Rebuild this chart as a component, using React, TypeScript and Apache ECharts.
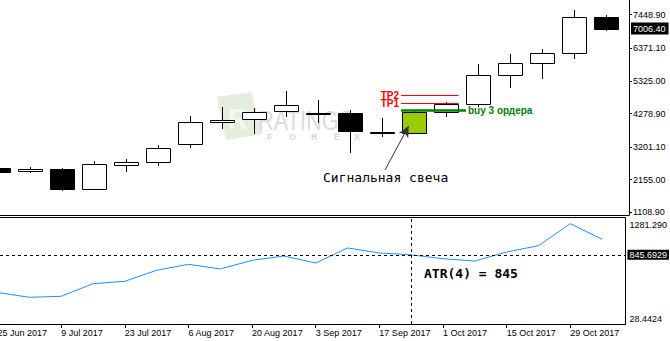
import React, { useEffect, useRef } from 'react';
import * as echarts from 'echarts';

// ---- Data ----
const weeks = [
  '25 Jun 2017', '2 Jul 2017', '9 Jul 2017', '16 Jul 2017', '23 Jul 2017',
  '30 Jul 2017', '6 Aug 2017', '13 Aug 2017', '20 Aug 2017', '27 Aug 2017',
  '3 Sep 2017', '10 Sep 2017', '17 Sep 2017', '24 Sep 2017', '1 Oct 2017',
  '8 Oct 2017', '15 Oct 2017', '22 Oct 2017', '29 Oct 2017', '5 Nov 2017',
];
const openPrices = [2521, 2425, 2489, 1866, 2636, 2713, 3291, 3997, 4093, 4350, 4280, 4305, 3690, 3660, 4318, 4575, 5505, 5890, 6211, 7366];
const closePrices = [2412, 2498, 1866, 2649, 2713, 3163, 3997, 4080, 4337, 4562, 4290, 3708, 3700, 4340, 4575, 5505, 5890, 6211, 7366, 7006.4];
const lowPrices = [2395, 2380, 1802, 1824, 2412, 2604, 3182, 3794, 3612, 4177, 3984, 3002, 3516, 3650, 4158, 4498, 5107, 5376, 6038, 6936];
const highPrices = [2535, 2563, 2531, 2755, 2810, 3259, 4190, 4478, 4446, 5001, 4713, 4392, 4125, 4390, 4649, 5868, 6189, 6349, 7601, 7440];
const atrValues = [401, 344, 356, 505, 533, 663, 734, 679, 781, 832, 749, 927, 868, 845.7, 800, 773, 879, 954, 1214, 1030];

const priceTicks = [7448.9, 6371.1, 5325.0, 4278.9, 3201.1, 2155.0, 1108.9];
const atrTicks = [1281.29, 28.4424];
const atrTickLabels = ['1281.290', '28.4424'];
const dateTickIndices = [0, 2, 4, 6, 8, 10, 12, 14, 16, 18];

const signalDate = '24 Sep 2017';
const lastPrice = 7006.4;
const lastPriceLabel = '7006.40';
const atrLevel = 845.6929;
const atrLevelLabel = '845.6929';
const buyLevel = 4391;
const tp1Level = 4594;
const tp2Level = 4851;

// ---- Scales ----
const priceMin = 1022.3;
const priceMax = 7921.6;
const xMin = 0.078;
const xMax = 19.734;

// annotation anchors (index, price)
const tpStart = 12.61;
const tpEnd = 14.41;
const buyEnd = 14.64;
const arrowTail = [12.11, 2466];
const arrowHead = [12.85, 3881];

const FONT = '"Liberation Sans", Arial, sans-serif';
const MONO = '"DejaVu Sans Mono", monospace';

export default function App() {
  const ref = useRef<HTMLDivElement>(null);

  useEffect(() => {
    if (!ref.current) return;
    const chart = echarts.init(ref.current, null, { renderer: 'svg' });
    const signalIndex = weeks.indexOf(signalDate);

    const candleData = weeks.map((_, i) => [i, openPrices[i], closePrices[i], lowPrices[i], highPrices[i]]);

    const renderCandle = (params: any, api: any) => {
      const i = api.value(0);
      const o = api.value(1);
      const c = api.value(2);
      const l = api.value(3);
      const h = api.value(4);
      const pO = api.coord([i, o]);
      const pC = api.coord([i, c]);
      const pL = api.coord([i, l]);
      const pH = api.coord([i, h]);
      const band = api.size([1, 0])[0];
      const half = band * 0.375;
      const cx = Math.round(pO[0]) + 0.5;
      const top = Math.round(Math.min(pO[1], pC[1]));
      const bot = Math.round(Math.max(pO[1], pC[1]));
      const bull = c >= o;
      const fill = params.dataIndex === signalIndex ? '#99cc00' : bull ? '#ffffff' : '#000000';
      const left = Math.round(pO[0] - half) + 0.5;
      return {
        type: 'group',
        children: [
          { type: 'line', shape: { x1: cx, y1: Math.round(pH[1]), x2: cx, y2: top }, style: { stroke: '#000', lineWidth: 1 } },
          { type: 'line', shape: { x1: cx, y1: bot, x2: cx, y2: Math.round(pL[1]) }, style: { stroke: '#000', lineWidth: 1 } },
          {
            type: 'rect',
            shape: { x: left, y: top + 0.5, width: Math.round(half * 2), height: Math.max(bot - top, 1) },
            style: { fill, stroke: '#000', lineWidth: 1 },
          },
        ],
      };
    };

    const foreLetters = ['F', 'O', 'R', 'E', 'X'];
    const foreX = [267, 289, 311, 334, 354];

    const option: any = {
      animation: false,
      backgroundColor: '#ffffff',
      grid: [
        { left: 0, top: 0, width: 629, height: 215 },
        { left: 0, top: 218, width: 629, height: 106 },
      ],
      xAxis: [
        {
          type: 'value', gridIndex: 0, min: xMin, max: xMax,
          axisLine: { show: true, onZero: false, lineStyle: { color: '#000', width: 1 } },
          axisTick: { show: false }, axisLabel: { show: false }, splitLine: { show: false },
        },
        {
          type: 'value', gridIndex: 1, min: xMin, max: xMax,
          axisLine: { show: true, onZero: false, lineStyle: { color: '#000', width: 1 } },
          axisTick: { show: true, customValues: dateTickIndices, length: 4, lineStyle: { color: '#000' } },
          axisLabel: {
            show: true, customValues: dateTickIndices, align: 'left', margin: 4,
            fontSize: 9, fontFamily: FONT, color: '#000',
            formatter: (v: number) => weeks[Math.round(v)] || '',
          },
          splitLine: { show: false },
        },
        {
          type: 'value', gridIndex: 1, min: xMin, max: xMax, position: 'top', offset: 1,
          axisLine: { show: true, onZero: false, lineStyle: { color: '#000', width: 1 } },
          axisTick: { show: false }, axisLabel: { show: false }, splitLine: { show: false },
        },
      ],
      yAxis: [
        {
          type: 'value', gridIndex: 0, position: 'right', min: priceMin, max: priceMax,
          axisLine: { show: true, lineStyle: { color: '#000', width: 1 } },
          axisTick: { show: true, customValues: priceTicks, length: 3, lineStyle: { color: '#000' } },
          axisLabel: {
            show: true, customValues: priceTicks, margin: 4, fontSize: 9, fontFamily: FONT, color: '#000',
            formatter: (v: number) => v.toFixed(2),
          },
          splitLine: { show: false },
        },
        {
          type: 'value', gridIndex: 1, position: 'right', min: atrTicks[1], max: atrTicks[0],
          axisLine: { show: true, lineStyle: { color: '#000', width: 1 } },
          axisTick: { show: false },
          axisLabel: {
            show: true, customValues: [atrTicks[0]], verticalAlign: 'top', padding: [2, 0, 0, 0],
            margin: 4, fontSize: 9, fontFamily: FONT, color: '#000',
            formatter: () => atrTickLabels[0],
          },
          splitLine: { show: false },
        },
        {
          type: 'value', gridIndex: 1, position: 'right', min: atrTicks[1], max: atrTicks[0],
          axisLine: { show: false }, axisTick: { show: false },
          axisLabel: {
            show: true, customValues: [atrTicks[1]], verticalAlign: 'bottom', padding: [0, 0, 1, 0],
            margin: 4, fontSize: 9, fontFamily: FONT, color: '#000',
            formatter: () => atrTickLabels[1],
          },
          splitLine: { show: false },
        },
      ],
      graphic: [
        {
          id: 'logoPage', type: 'polygon', z: 0, silent: true,
          shape: { points: [[217, 97], [251, 92], [263, 134], [226, 140]] },
          style: { fill: '#e4eedc' },
        },
        {
          id: 'logoR', type: 'text', z: 0, silent: true, x: 228, y: 103, scaleX: 0.9,
          style: { text: 'R', font: 'bold 30px ' + FONT, fill: '#f4f8f0', verticalAlign: 'top' },
        },
        {
          id: 'logoText', type: 'text', z: 0, silent: true, x: 258, y: 120, scaleX: 0.78,
          style: { text: 'RATINGS', font: '28px ' + FONT, fill: '#dcdcdc', verticalAlign: 'middle' },
        },
        ...foreLetters.map((ch, k) => ({
          id: 'fx' + k, type: 'text', z: 0, silent: true, x: foreX[k], y: 137,
          style: { text: ch, font: 'bold 9px ' + FONT, fill: '#d6d6d6', verticalAlign: 'middle' },
        })),
        {
          id: 'signalText', type: 'text', z: 10, silent: true, x: 323, y: 177.5,
          style: { text: 'Сигнальная свеча', font: '13px ' + MONO, fill: '#000', verticalAlign: 'middle' },
        },
        {
          id: 'atrText', type: 'text', z: 10, silent: true, x: 424, y: 273,
          style: { text: 'ATR(4) = 845', font: 'bold 13px ' + MONO, fill: '#000', verticalAlign: 'middle' },
        },
      ],
      series: [
        {
          type: 'custom', name: 'price', xAxisIndex: 0, yAxisIndex: 0, z: 3, clip: false,
          data: candleData, encode: { x: 0, y: [1, 2, 3, 4] }, renderItem: renderCandle, silent: true,
        },
        {
          type: 'line', name: 'annotations', xAxisIndex: 0, yAxisIndex: 0, data: [], z: 5,
          markLine: {
            silent: true, symbol: 'none', animation: false,
            data: [
              {
                yAxis: lastPrice,
                lineStyle: { color: 'rgba(0,0,0,0)', width: 0 },
                label: {
                  show: true, position: 'end', distance: 2, formatter: lastPriceLabel,
                  backgroundColor: '#000', color: '#fff', fontSize: 9, fontFamily: FONT, padding: [2, 3, 1, 2],
                },
              },
              [
                {
                  coord: [tpStart, tp2Level],
                  lineStyle: { color: '#ff0000', width: 1, type: 'solid' },
                  label: { show: true, position: 'start', distance: 2, formatter: 'TP2', color: '#ff0000', fontWeight: 'bold', fontSize: 10, lineHeight: 7, fontFamily: FONT },
                },
                { coord: [tpEnd, tp2Level] },
              ],
              [
                {
                  coord: [tpStart, tp1Level],
                  lineStyle: { color: '#ff0000', width: 1, type: 'solid' },
                  label: { show: true, position: 'start', distance: 2, formatter: 'TP1', color: '#ff0000', fontWeight: 'bold', fontSize: 10, lineHeight: 7, fontFamily: FONT },
                },
                { coord: [tpEnd, tp1Level] },
              ],
              [
                {
                  coord: [tpStart, buyLevel],
                  lineStyle: { color: '#008000', width: 2.5, type: 'solid' },
                  label: { show: true, position: 'end', distance: 2, formatter: 'buy 3 ордера', color: '#008000', fontWeight: 'bold', fontSize: 10, fontFamily: FONT },
                },
                { coord: [buyEnd, buyLevel] },
              ],
              [
                {
                  coord: arrowTail, symbol: 'none',
                  lineStyle: { color: '#333', width: 1, type: 'solid' },
                  label: { show: false },
                },
                { coord: arrowHead, symbol: 'arrow', symbolSize: [8, 11] },
              ],
            ],
          },
        },
        {
          type: 'line', name: 'ATR(4)', xAxisIndex: 1, yAxisIndex: 1, z: 3,
          data: atrValues.map((v, i) => [i, v]),
          showSymbol: false, symbol: 'none', silent: true,
          lineStyle: { color: '#1e90ff', width: 1 },
          markLine: {
            silent: true, symbol: 'none', animation: false,
            lineStyle: { color: '#000', width: 1, type: [3, 3] },
            data: [
              {
                yAxis: atrLevel,
                label: {
                  show: true, position: 'end', distance: 2, formatter: atrLevelLabel,
                  backgroundColor: '#000', color: '#fff', fontSize: 9, fontFamily: FONT, padding: [1, 2, 0, 2],
                },
              },
              { xAxis: signalIndex, label: { show: false } },
            ],
          },
        },
      ],
    };

    chart.setOption(option);

    // first date label lies just left of the axis extent: place it via the axis scale
    const firstX = chart.convertToPixel({ xAxisIndex: 1 }, dateTickIndices[0]) as number;
    const axisY = chart.convertToPixel({ yAxisIndex: 1 }, atrTicks[1]) as number;
    chart.setOption({
      graphic: [
        {
          id: 'firstDate', type: 'text', silent: true, x: firstX, y: axisY + 4,
          style: { text: weeks[dateTickIndices[0]], font: '9px ' + FONT, fill: '#000', verticalAlign: 'top', align: 'left' },
        },
      ],
    });

    return () => chart.dispose();
  }, []);

  return (
    <div
      ref={ref}
      style={{ position: 'fixed', left: 0, top: 0, width: 670, height: 341, background: '#fff' }}
    />
  );
}
